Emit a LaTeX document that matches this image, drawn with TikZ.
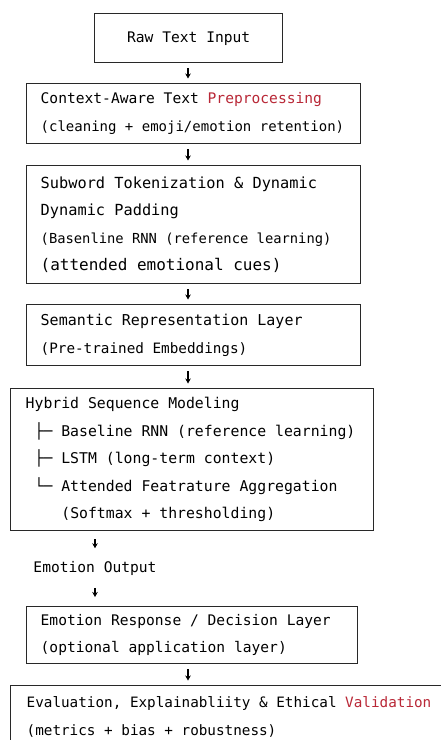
\documentclass[tikz,border=0pt]{standalone}
\usepackage{fontspec}
\newfontfamily\codefont{DejaVu Sans Mono}
\usepackage{tikz}
\usetikzlibrary{positioning,arrows.meta}
\definecolor{hlred}{RGB}{185,40,55}
\definecolor{rim}{RGB}{40,40,40}
\newcommand{\hl}[1]{\textcolor{hlred}{#1}}
\newcommand{\fs}[1]{\fontsize{#1}{27.5}\selectfont\spaceskip=0.602em\relax}

\begin{document}
\begin{tikzpicture}[x=1pt,y=-1pt,
  stage/.style={draw=rim,line width=1.4pt,anchor=north west,align=left,
    inner xsep=14pt,inner ysep=0pt,font=\codefont\fs{14.6}},
  link/.style={draw=black,line width=1.3pt,-{Stealth[length=5pt,width=5.5pt]},
    shorten <=5pt,shorten >=4.5pt}]
  \clip (0,0) rectangle (441,740);
  \fill[white] (0,0) rectangle (441,740);
  \coordinate (axis) at (188,0);
  \node[stage,align=center,minimum width=188pt,minimum height=49pt,text width=160pt]
    (raw) at (94,13) {\fs{14.6}Raw Text Input};
  \node[stage,minimum width=334pt,minimum height=60pt,text width=306pt]
    (prep) at (26,83) {\fs{14.6}Context-Aware Text \hl{Preprocessing}\\
    \fs{14}(cleaning + emoji/emotion retention)};
  \node[stage,minimum width=334pt,minimum height=118pt,text width=306pt]
    (token) at (26,165) {\fs{15.3}Subword Tokenization \& Dynamic\\
    Dynamic Padding\\
    \fs{13.8}(Basenline RNN (reference learning)\\
    \fs{16}(attended emotional cues)};
  \node[stage,minimum width=334pt,minimum height=61pt,text width=306pt]
    (embed) at (26,304) {\fs{15}Semantic Representation Layer\\
    \fs{14.3}(Pre-trained Embeddings)};
  \node[stage,inner xsep=15pt,minimum width=363pt,minimum height=142pt,text width=333pt]
    (hybrid) at (10,388) {\fs{14.8}Hybrid Sequence Modeling\\
    \phantom{x}├─ Baseline RNN (reference learning)\\
    \phantom{x}├─ LSTM (long-term context)\\
    \phantom{x}└─ Attended Featrature Aggregation\\
    \phantom{xxxx}(Softmax + thresholding)};
  \node[font=\codefont\fs{14.6},inner sep=4pt] (out) at (95,568.5) {Emotion Output};
  \node[stage,minimum width=331pt,minimum height=57pt,text width=303pt]
    (resp) at (26,606) {\fs{14.6}Emotion Response / Decision Layer\\
    (optional application layer)};
  \node[stage,inner xsep=16pt,minimum width=460pt,minimum height=63pt,text width=428pt]
    (eval) at (10,685) {\fs{14.3}Evaluation, Explainabliity \& Ethical \hl{Validation}\\
    (metrics + bias + robustness)};
  \foreach \a/\b in {raw/prep,prep/token,token/embed,embed/hybrid,resp/eval}
    \draw[link] (axis |- \a.south) -- (axis |- \b.north);
  \draw[link,shorten <=8pt,shorten >=9pt] (out.north |- hybrid.south) -- (out.north);
  \draw[link,shorten <=8pt,shorten >=9pt] (out.south) -- (out.south |- resp.north);
\end{tikzpicture}
\end{document}
